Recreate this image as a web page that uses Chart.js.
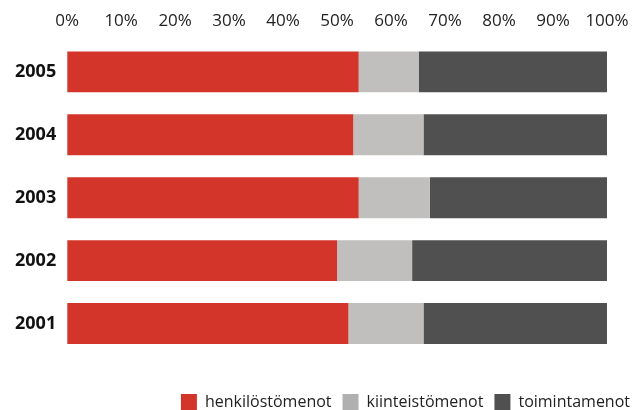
<!DOCTYPE html>
<html>
<head>
<meta charset="utf-8">
<script src="https://cdn.jsdelivr.net/npm/chart.js@4"></script>
<style>
  body { margin: 0; background: #fff; }
</style>
</head>
<body>
<canvas id="costChart" width="641" height="410"></canvas>
<script>
const years = ['2005', '2004', '2003', '2002', '2001'];
const henkilosto = [54.0, 53.0, 54.0, 50.0, 52.1];
const kiinteisto = [11.1, 13.0, 13.2, 13.9, 13.9];
const toiminta = [34.9, 34.0, 32.8, 36.1, 34.0];
const legendColors = ['#D3352B', '#B0B0B0', '#505050'];

const ctx = document.getElementById('costChart');

new Chart(ctx, {
  type: 'bar',
  data: {
    labels: years,
    datasets: [
      { label: 'henkilöstömenot', data: henkilosto, backgroundColor: '#D3352B' },
      { label: 'kiinteistömenot', data: kiinteisto, backgroundColor: '#C0BFBD' },
      { label: 'toimintamenot', data: toiminta, backgroundColor: '#505050' }
    ]
  },
  options: {
    indexAxis: 'y',
    responsive: false,
    animation: false,
    layout: { padding: { left: 4, right: 0, top: 2, bottom: -10 } },
    datasets: { bar: { categoryPercentage: 1, barPercentage: 0.65 } },
    plugins: {
      tooltip: { enabled: false },
      legend: {
        position: 'bottom',
        align: 'end',
        labels: {
          boxWidth: 16,
          boxHeight: 16,
          padding: 11,
          color: '#222',
          font: { family: 'Open Sans', size: 16 },
          generateLabels: chart => {
            const items = Chart.defaults.plugins.legend.labels.generateLabels(chart);
            items.forEach((it, i) => { it.fillStyle = legendColors[i]; it.strokeStyle = legendColors[i]; it.lineWidth = 0; });
            return items;
          }
        }
      }
    },
    scales: {
      x: {
        position: 'top',
        stacked: true,
        min: 0,
        max: 100,
        grid: { display: false, drawTicks: false },
        border: { display: false },
        afterFit: s => { s.paddingRight = 34; },
        ticks: {
          stepSize: 10,
          padding: 9,
          color: '#222',
          font: { family: 'Open Sans', size: 17 },
          callback: v => v + '%'
        }
      },
      // empty spacer between the bars and the legend
      xPad: {
        type: 'linear',
        position: 'bottom',
        grid: { display: false, drawTicks: false },
        border: { display: false },
        ticks: { display: false },
        afterFit: s => { s.height = 28; }
      },
      y: {
        stacked: true,
        grid: { display: false, drawTicks: false },
        border: { display: false },
        ticks: {
          padding: 11,
          color: '#111',
          font: { family: 'Open Sans', size: 18, weight: 'bold' }
        }
      }
    }
  }
});
</script>
</body>
</html>
